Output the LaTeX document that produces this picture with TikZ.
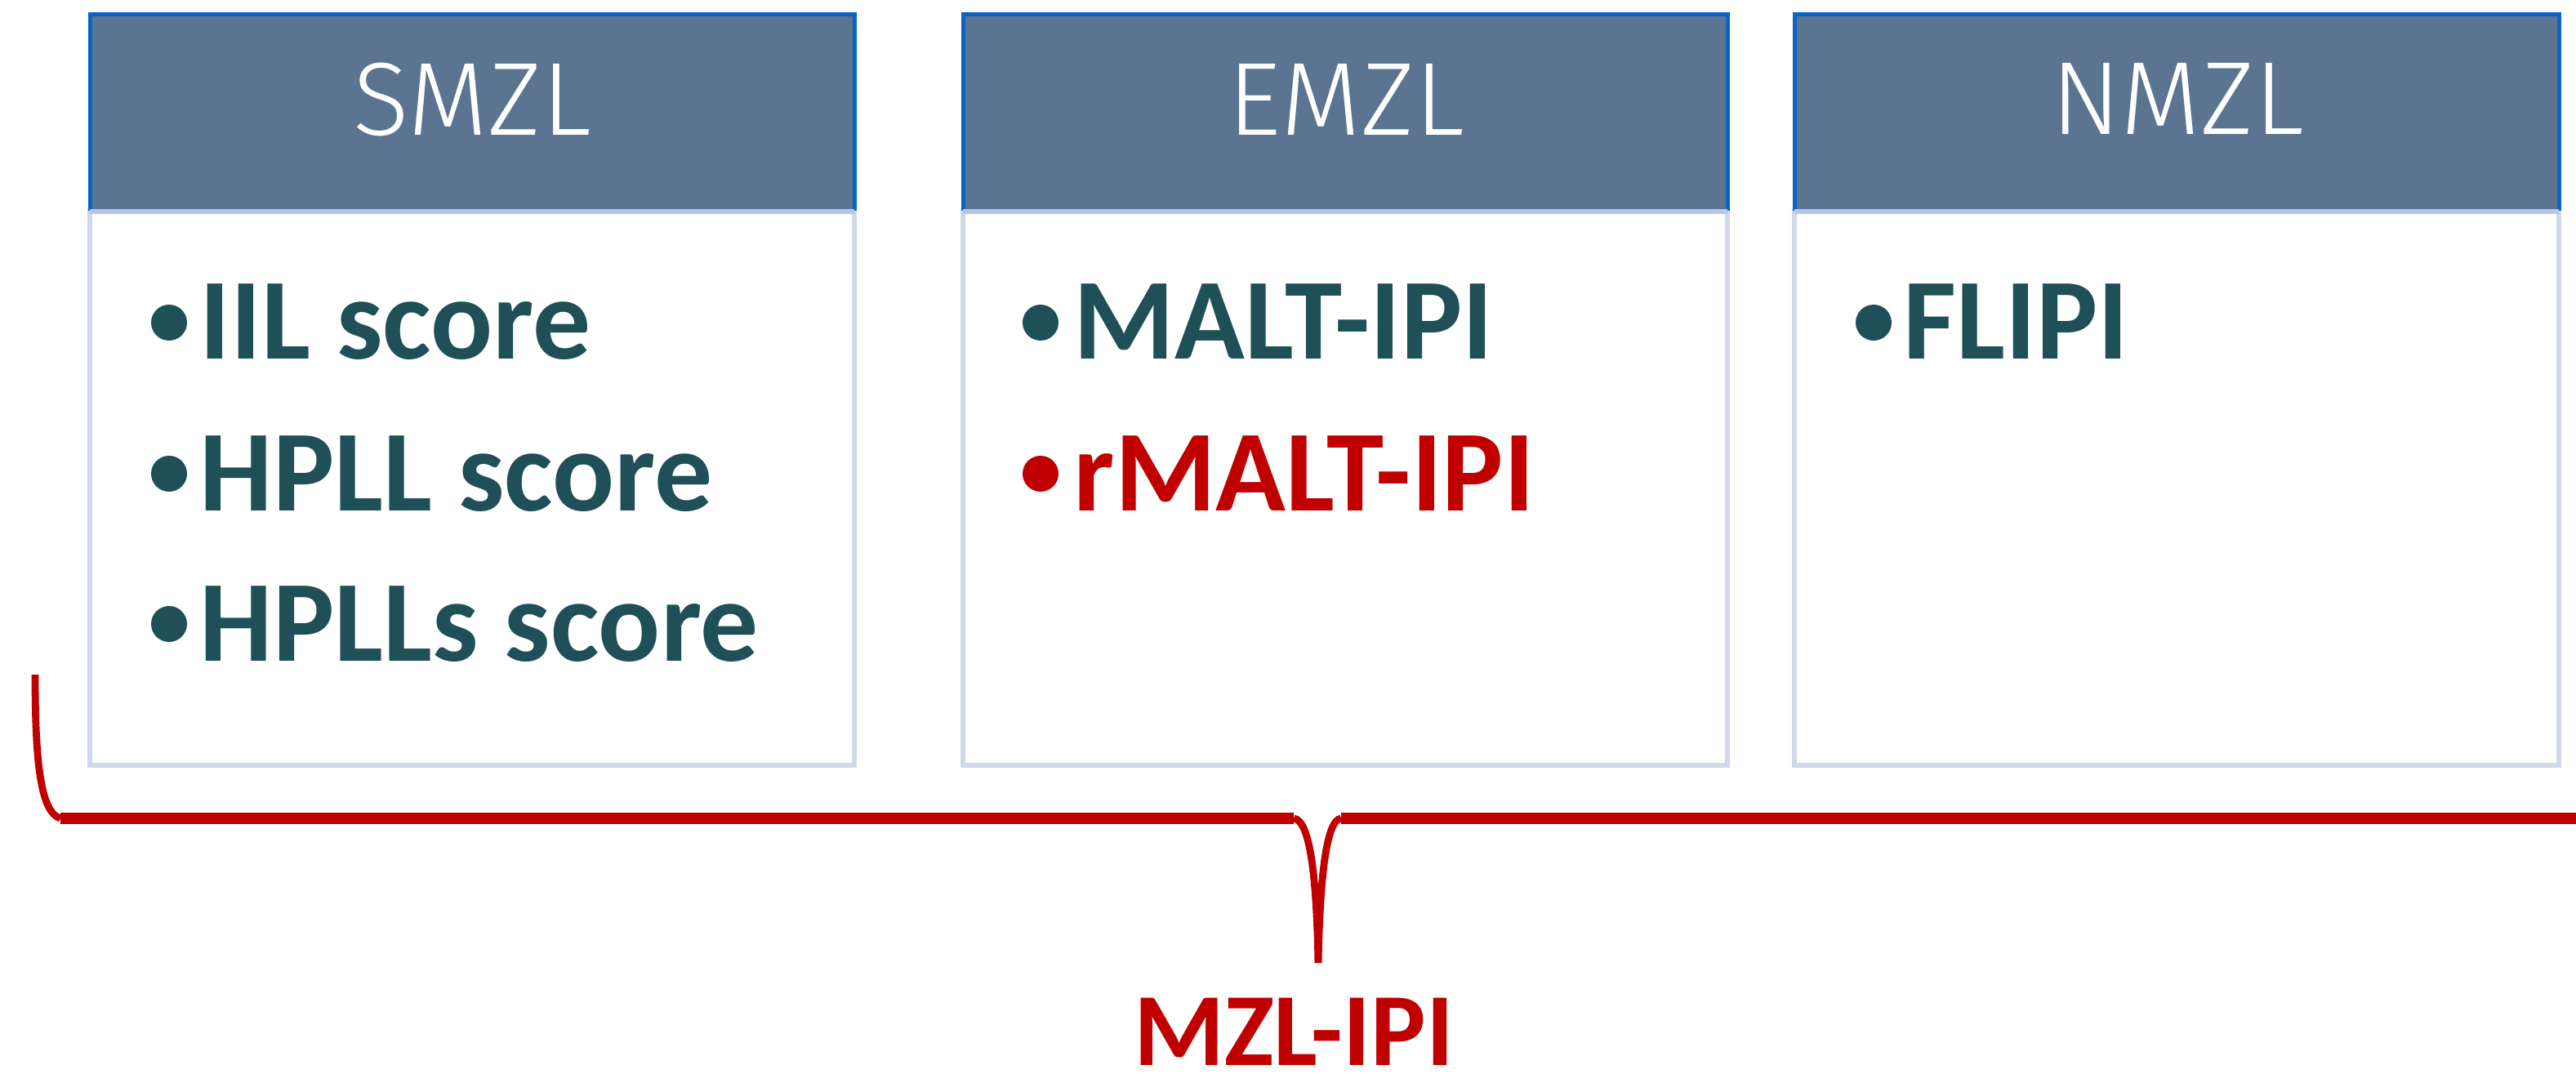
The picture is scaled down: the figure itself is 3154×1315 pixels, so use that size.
\documentclass[tikz,border=0pt]{standalone}
\usepackage{fontspec}
\setmainfont{Carlito}
\newfontfamily\hdrfont{Fira Sans Light}
\definecolor{hdrfill}{HTML}{5A7491}
\definecolor{hdrline}{HTML}{0B64C4}
\definecolor{sepline}{HTML}{B4C7E7}
\definecolor{bodyline}{HTML}{D0D8EA}
\definecolor{tealtxt}{HTML}{1F4F57}
\definecolor{redtxt}{HTML}{C00000}
\tikzset{
  hdrbox/.style={fill=hdrfill},
  hdredge/.style={draw=hdrline, line width=1.25pt},
  sepedge/.style={draw=sepline, line width=1.4pt},
  bodybox/.style={draw=bodyline, line width=1.3pt, fill=white},
  hdrtext/.style={font=\hdrfont\fontsize{31.8}{38}\selectfont, text=white, inner sep=0pt, anchor=base},
  itemtext/.style={font=\bfseries\fontsize{35.4}{42}\selectfont, text=tealtxt, inner sep=0pt, anchor=base west},
  reditem/.style={itemtext, text=redtxt},
  bulletdot/.style={circle, fill=tealtxt, minimum size=11pt, inner sep=0pt},
  redbullet/.style={bulletdot, fill=redtxt},
  bracethin/.style={draw=redtxt, line width=2.2pt},
  bracethick/.style={draw=redtxt, line width=3.6pt},
  labeltext/.style={font=\bfseries\fontsize{31.75}{38}\selectfont, text=redtxt, inner sep=0pt, text depth=0pt, anchor=base},
}
\begin{document}
\begin{tikzpicture}[x=0.25pt, y=-0.25pt]
\useasboundingbox (0,0) rectangle (3154,1315);
% box bodies
\foreach \l/\r in {110/1046, 1179/2115, 2197/3133}{
  \draw[bodybox] (\l,258) rectangle (\r,937);
  \fill[hdrbox] (\l,18) rectangle (\r,258);
  \draw[hdredge] (\l,258) -- (\l,18) -- (\r,18) -- (\r,258);
  \draw[sepedge] (\l,259) -- (\r,259);
}
% headers
\node[hdrtext] (h1) at (578,166) {SMZL};
\node[hdrtext] (h2) at (1648,166) {EMZL};
\node[hdrtext] (h3) at (2666,165) {NMZL};
% box 1 items
\node[bulletdot] (b11) at (207,395) {};
\node[itemtext] (i11) at (244,440) {IIL score};
\node[bulletdot] (b12) at (207,580) {};
\node[itemtext] (i12) at (244,625) {HPLL score};
\node[bulletdot] (b13) at (207,764) {};
\node[itemtext] (i13) at (244,809) {HPLLs score};
% box 2 items
\node[bulletdot] (b21) at (1274,395) {};
\node[itemtext] (i21) at (1314,440) {MALT-IPI};
\node[redbullet] (b22) at (1274,580) {};
\node[reditem] (i22) at (1314,625) {rMALT-IPI};
% box 3 items
\node[bulletdot] (b31) at (2294,395) {};
\node[itemtext] (i31) at (2330,440) {FLIPI};
% brace
\coordinate (bl) at (43,826);
\coordinate (bc) at (74,1002);
\coordinate (bm1) at (1584,1002);
\coordinate (bm2) at (1642,1002);
\coordinate (btip) at (1614,1179);
\coordinate (br) at (3160,1002);
\draw[bracethin] (bl) .. controls (43,935) and (50,995) .. (bc);
\draw[bracethin] (bm1) .. controls (1605,1004) and (1612,1080) .. (btip);
\draw[bracethin] (bm2) .. controls (1623,1004) and (1616,1080) .. (btip);
\draw[bracethick] (bc) -- (bm1);
\draw[bracethick] (bm2) -- (br);
\node[labeltext] (lbl) at (1584,1304) {MZL-IPI};
\end{tikzpicture}
\end{document}
